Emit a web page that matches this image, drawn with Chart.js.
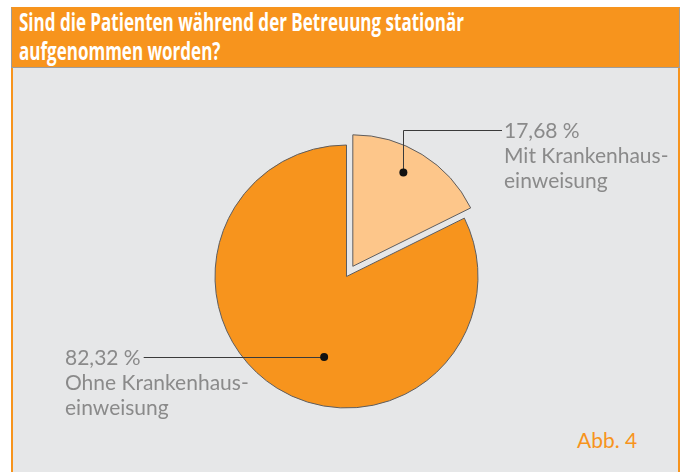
<!DOCTYPE html>
<html lang="de">
<head>
<meta charset="utf-8">
<title>Stationäre Aufnahme</title>
<script src="https://cdn.jsdelivr.net/npm/chart.js@4.4.1/dist/chart.umd.min.js"></script>
<style>
  html, body { margin: 0; padding: 0; background: #fff; }
  body { width: 683px; height: 472px; position: relative; overflow: hidden; }
  .panel {
    position: absolute; left: 11px; top: 66px; width: 669px; height: 420px;
    box-sizing: border-box; background: #E6E7E8;
    border-left: 2px solid #F7941D; border-right: 2px solid #F7941D;
  }
  .head {
    position: absolute; left: 11px; top: 7px; width: 669px; height: 61px;
    box-sizing: border-box; background: #F7941D; border: 1px solid #9d9d9d;
    border-top: 2px solid #F7941D;
  }
  .head h1 {
    margin: 0; position: absolute; left: 7px; top: -2px;
    font: bold 25px/29px "Open Sans", sans-serif;
    color: #fff; white-space: nowrap; transform-origin: 0 0;
  }
  .abb {
    position: absolute; left: 577px; top: 427px;
    font: 21px Lato, sans-serif; color: #F7941D;
  }
  #pie { position: absolute; left: 0; top: 0; }
</style>
</head>
<body>
<div class="panel"></div>
<div class="head"><h1 id="title"><span id="t1">Sind die Patienten während der Betreuung stationär</span><br>aufgenommen worden?</h1></div>
<div class="abb">Abb. 4</div>
<canvas id="pie" width="683" height="472"></canvas>

<script>
// Anteile in Prozent, Reihenfolge im Uhrzeigersinn ab 12 Uhr
const categories = [['Mit Krankenhaus-', 'einweisung'], ['Ohne Krankenhaus-', 'einweisung']]
const shares = [17.68, 82.32]
const sliceColors = ['#FDC68A', '#F7941D']
const explode = [12, 0] // px, kleines Stück ist herausgerückt

// wo der Punkt im Stück sitzt (Anteil des Winkels / des Radius) und wo der Text steht
const labelSpots = [
    { at: 0.445, r: 0.81, textX: 504, lineY: 130, side: 'right' },
    { at: 0.445, r: 0.635, textX: 65, lineY: null, side: 'left' }
]

// Titel ist im Original eine schmale Schrift -> auf gleiche Breite stauchen
const t1 = document.getElementById('t1')
document.getElementById('title').style.transform = 'scaleX(' + (445 / t1.getBoundingClientRect().width) + ')'

function fmt(v) {
    return v.toFixed(2).replace('.', ',') + ' %'
}

function shift(arc, i) {
    const mid = (arc.startAngle + arc.endAngle) / 2
    return { dx: Math.cos(mid) * explode[i], dy: Math.sin(mid) * explode[i] }
}

// Stücke selbst zeichnen, damit das herausgerückte Stück seinen Radius behält
const explodePlugin = {
    id: 'explode',
    beforeDatasetDraw(chart, args) {
        const ctx = chart.ctx
        args.meta.data.forEach((arc, i) => {
            const s = shift(arc, i)
            ctx.save()
            ctx.translate(s.dx, s.dy)
            arc.draw(ctx)
            ctx.restore()
        })
        return false
    }
}

const calloutPlugin = {
    id: 'callouts',
    afterDatasetsDraw(chart) {
        const ctx = chart.ctx
        const arcs = chart.getDatasetMeta(0).data
        ctx.save()
        ctx.font = '21px Lato, sans-serif'
        ctx.textBaseline = 'middle'
        arcs.forEach((arc, i) => {
            const spot = labelSpots[i]
            const s = shift(arc, i)
            const a = arc.startAngle + spot.at * (arc.endAngle - arc.startAngle)
            const px = arc.x + s.dx + Math.cos(a) * arc.outerRadius * spot.r
            const py = arc.y + s.dy + Math.sin(a) * arc.outerRadius * spot.r
            const lines = [fmt(shares[i])].concat(categories[i])

            ctx.strokeStyle = '#3a3a3a'
            ctx.lineWidth = 1
            ctx.beginPath()
            let textY
            if (spot.side === 'right') {
                textY = spot.lineY
                ctx.moveTo(Math.round(px) + 0.5, py)
                ctx.lineTo(Math.round(px) + 0.5, textY + 0.5)
                ctx.lineTo(spot.textX - 2, textY + 0.5)
            } else {
                textY = Math.round(py)
                const w = ctx.measureText(lines[0]).width
                ctx.moveTo(px, textY + 0.5)
                ctx.lineTo(spot.textX + w + 3, textY + 0.5)
            }
            ctx.stroke()

            ctx.fillStyle = '#111'
            ctx.beginPath()
            ctx.arc(px, py, 4, 0, Math.PI * 2)
            ctx.fill()

            ctx.fillStyle = '#8a8a8a'
            lines.forEach((t, k) => {
                ctx.fillText(t, spot.textX, textY + 1 + k * 25)
            })
        })
        ctx.restore()
    }
}

new Chart(document.getElementById('pie'), {
    type: 'pie',
    data: {
        labels: categories,
        datasets: [{
            data: shares,
            backgroundColor: sliceColors,
            borderColor: '#5d5d5f',
            borderWidth: 1
        }]
    },
    options: {
        responsive: false,
        animation: false,
        radius: 131.5,
        layout: { padding: { left: 196.5, right: 186.5, top: 126.5, bottom: 45.5 } },
        plugins: {
            legend: { display: false },
            tooltip: { enabled: false }
        }
    },
    plugins: [explodePlugin, calloutPlugin]
})
</script>
</body>
</html>
